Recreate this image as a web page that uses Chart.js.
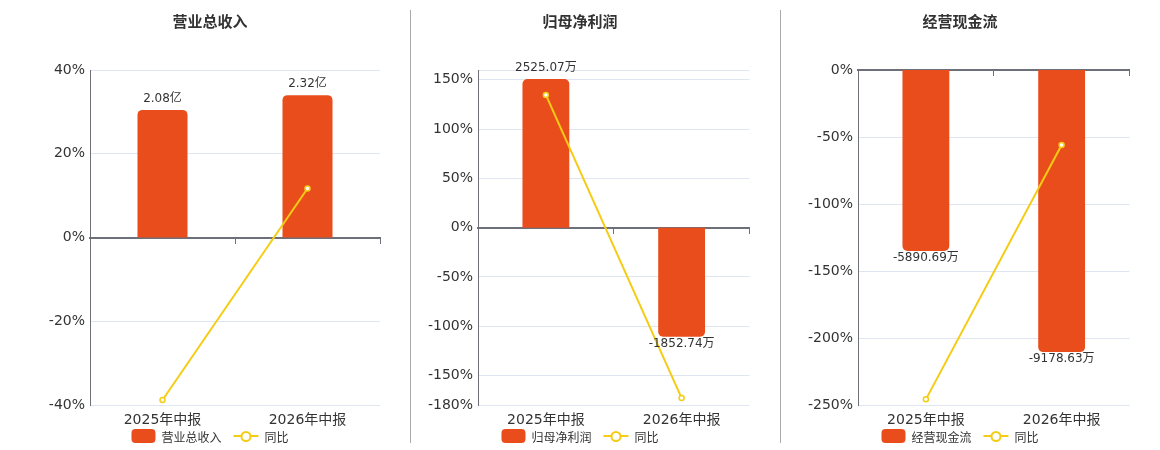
<!DOCTYPE html>
<html>
<head>
<meta charset="utf-8">
<script src="https://cdn.jsdelivr.net/npm/chart.js@4.4.1/dist/chart.umd.min.js"></script>
<style>
body{margin:0;background:#fff;font-family:"DejaVu Sans","Noto Sans CJK SC",sans-serif;}
#wrap{position:relative;width:1160px;height:450px;overflow:hidden;}
canvas{position:absolute;top:0;}
.title{position:absolute;top:12px;font-weight:bold;font-size:15px;line-height:20px;color:#333;transform:translateX(-50%);white-space:nowrap;}
.legend{position:absolute;top:428px;height:16px;transform:translateX(-50%);display:flex;align-items:center;font-size:12px;color:#333;white-space:nowrap;}
.sw-bar{width:24px;height:14px;border-radius:4px;background:#e94d1c;margin-right:6px;}
.sw-line{position:relative;width:25px;height:14px;margin:0 6px 0 12px;}
.sw-line:before{content:'';position:absolute;left:0;right:0;top:6px;height:2px;background:#f4cc14;}
.sw-line:after{content:'';position:absolute;left:7px;top:2px;width:7px;height:7px;border:2px solid #f4cc14;border-radius:50%;background:#fff;}
.sep{position:absolute;top:10px;width:1px;height:433px;background:#aaa;}
</style>
</head>
<body>
<div id="wrap"></div>
<script>
// data
var categories = ['2025年中报', '2026年中报'];

var revenue = [2.08, 2.32];            // 亿
var revenueYoY = [-38.8, 11.7];        // %
var netProfit = [2525.07, -1852.74];   // 万
var netProfitYoY = [134.7, -173.0];
var cashFlow = [-5890.69, -9178.63];   // 万
var cashFlowYoY = [-245.8, -56.0];

var ticksRevenue = [40, 20, 0, -20, -40];
var ticksProfit = [160, 150, 100, 50, 0, -50, -100, -150, -180];
var ticksCash = [0, -50, -100, -150, -200, -250];

var BAR = '#e94d1c';
var LINE = '#f4cc14';
var FONT = '"DejaVu Sans","Noto Sans CJK SC",sans-serif';

var panels = [
    {title: '营业总收入', name: '营业总收入', bars: revenue, yoy: revenueYoY, unit: '亿',
     ticks: ticksRevenue, hideTick: null, barMin: -2.73, barMax: 2.73,
     left: 0, width: 420, padL: 30, padR: 40, center: 210},
    {title: '归母净利润', name: '归母净利润', bars: netProfit, yoy: netProfitYoY, unit: '万',
     ticks: ticksProfit, hideTick: 160, barMin: -3015, barMax: 2680,
     left: 410, width: 345, padL: 8, padR: 5, center: 580},
    {title: '经营现金流', name: '经营现金流', bars: cashFlow, yoy: cashFlowYoY, unit: '万',
     ticks: ticksCash, hideTick: null, barMin: -10900, barMax: 0,
     left: 790, width: 345, padL: 8, padR: 5, center: 960}
];

var wrap = document.getElementById('wrap');

[410, 780].forEach(function(x) {
    var s = document.createElement('div');
    s.className = 'sep';
    s.style.left = x + 'px';
    wrap.appendChild(s);
});

var barLabels = {
    id: 'barLabels',
    afterDatasetsDraw: function(chart) {
        var p = chart.options.plugins.barLabels;
        var meta = chart.getDatasetMeta(1);
        var ctx = chart.ctx;
        ctx.save();
        ctx.font = '12px ' + FONT;
        ctx.fillStyle = '#333';
        ctx.textAlign = 'center';
        meta.data.forEach(function(el, i) {
            var v = p.values[i];
            var txt = v.toFixed(2) + p.unit;
            if (v >= 0) {
                ctx.textBaseline = 'bottom';
                ctx.fillText(txt, el.x, el.y - 5);
            } else {
                ctx.textBaseline = 'top';
                ctx.fillText(txt, el.x, el.y + 1);
            }
        });
        ctx.restore();
    }
};

panels.forEach(function(p) {
    var cv = document.createElement('canvas');
    cv.width = p.width;
    cv.height = 450;
    cv.style.left = p.left + 'px';
    wrap.appendChild(cv);

    var t = document.createElement('div');
    t.className = 'title';
    t.style.left = p.center + 'px';
    t.textContent = p.title;
    wrap.appendChild(t);

    var lg = document.createElement('div');
    lg.className = 'legend';
    lg.style.left = p.center + 'px';
    lg.innerHTML = '<span class="sw-bar"></span><span>' + p.name + '</span>' +
                   '<span class="sw-line"></span><span>同比</span>';
    wrap.appendChild(lg);

    new Chart(cv, {
        data: {
            labels: categories,
            datasets: [
                {
                    type: 'line',
                    label: '同比',
                    data: p.yoy,
                    yAxisID: 'y',
                    order: 0,
                    borderColor: LINE,
                    borderWidth: 2,
                    pointRadius: 2.5,
                    pointBorderWidth: 1.5,
                    pointBackgroundColor: '#fff',
                    pointBorderColor: LINE,
                    tension: 0
                },
                {
                    type: 'bar',
                    label: p.name,
                    data: p.bars,
                    yAxisID: 'y1',
                    order: 1,
                    backgroundColor: BAR,
                    borderRadius: 5,
                    borderSkipped: 'start',
                    categoryPercentage: 1,
                    barPercentage: 0.345
                }
            ]
        },
        options: {
            responsive: false,
            animation: false,
            layout: {padding: {top: 70, bottom: 15, left: p.padL, right: p.padR}},
            plugins: {
                legend: {display: false},
                tooltip: {enabled: false},
                barLabels: {values: p.bars, unit: p.unit}
            },
            scales: {
                x: {
                    type: 'category',
                    offset: true,
                    grid: {display: false, drawTicks: false},
                    border: {display: false},
                    afterFit: function(s) { s.height = 30; },
                    ticks: {color: '#333', font: {size: 14, family: FONT}, padding: 7}
                },
                x2: {
                    type: 'category',
                    labels: categories,
                    position: {y: 0},
                    offset: true,
                    grid: {drawOnChartArea: false, drawTicks: true, tickLength: 5, offset: true, color: '#6e7079'},
                    border: {color: '#6e7079', width: 2},
                    ticks: {display: false}
                },
                y: {
                    position: 'left',
                    min: p.ticks[p.ticks.length - 1],
                    max: p.ticks[0],
                    afterFit: function(s) { s.width = 60; },
                    afterBuildTicks: function(s) {
                        s.ticks = p.ticks.map(function(v) { return {value: v}; });
                    },
                    grid: {color: '#e0e6f1', drawTicks: false},
                    border: {color: '#6e7079', width: 1},
                    ticks: {
                        color: '#333',
                        padding: 5,
                        font: {size: 14, family: FONT},
                        callback: function(v) { return v === p.hideTick ? '' : v + '%'; }
                    }
                },
                y1: {
                    display: false,
                    min: p.barMin,
                    max: p.barMax
                }
            }
        },
        plugins: [barLabels]
    });
});
</script>
</body>
</html>
